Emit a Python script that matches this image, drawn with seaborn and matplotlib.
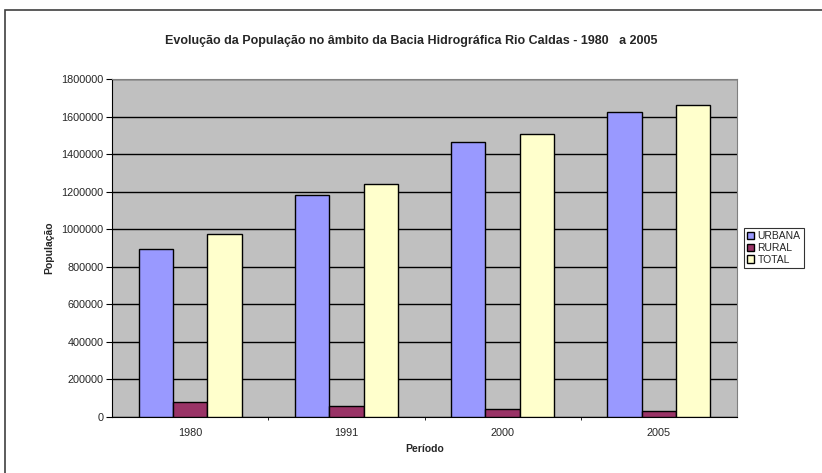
import pandas as pd
import matplotlib.pyplot as plt
import seaborn as sns
from matplotlib.patches import Rectangle
from matplotlib.ticker import FixedLocator

# Dados
periodos = ['1980', '1991', '2000', '2005']
urbana = [895000, 1181000, 1463000, 1624000]
rural = [78000, 57000, 41000, 34000]
total = [973000, 1239000, 1505000, 1663000]
series = ['URBANA', 'RURAL', 'TOTAL']
cores = ['#9999FF', '#993366', '#FFFFCC']

df = pd.DataFrame({'Período': periodos, 'URBANA': urbana, 'RURAL': rural, 'TOTAL': total})
df = df.melt(id_vars='Período', value_vars=series, var_name='Série', value_name='População')

sns.set_style('white')
plt.rcParams['font.family'] = ['Liberation Sans', 'DejaVu Sans']

fig = plt.figure(figsize=(8.22, 4.73), dpi=100)
ax = fig.add_axes([0.1363, 0.1184, 0.7603, 0.7146])

sns.barplot(data=df, x='Período', y='População', hue='Série', hue_order=series,
            palette=cores, width=0.66, edgecolor='black', linewidth=1.0,
            saturation=1, ax=ax, zorder=3)

ax.set_facecolor('#C0C0C0')
ax.set_ylim(0, 1800000)
ax.set_xlim(-0.5, 3.5)
ax.set_yticks(range(0, 1800001, 200000))
ax.set_yticklabels([str(v) for v in range(0, 1800001, 200000)], fontsize=7.8)
ax.yaxis.grid(True, color='black', linewidth=1.0, zorder=0)
ax.set_axisbelow(True)
ax.tick_params(axis='y', length=4, width=0.8, color='black', pad=2, left=True)
ax.tick_params(axis='x', which='major', length=0, labelsize=7.8, pad=8)
ax.xaxis.set_minor_locator(FixedLocator([0.5, 1.5, 2.5]))
ax.tick_params(axis='x', which='minor', length=2, width=0.6, color='black', bottom=True)
for s in ['top', 'right']:
    ax.spines[s].set_visible(True)
    ax.spines[s].set_color('#808080')
for s in ['left', 'bottom']:
    ax.spines[s].set_color('black')

ax.set_xlabel('Período', fontsize=7.5, fontweight='bold', labelpad=4)
ax.set_ylabel('População', fontsize=7.5, fontweight='bold', labelpad=5)

fig.suptitle('Evolução da População no âmbito da Bacia Hidrográfica Rio Caldas - 1980   a 2005',
             x=0.5, y=0.925, fontsize=9, fontweight='bold')

leg = ax.legend(loc='center left', bbox_to_anchor=(1.011, 0.5), fontsize=7.5,
                frameon=True, fancybox=False, edgecolor='black', handlelength=0.7,
                handleheight=0.7, handletextpad=0.3, borderpad=0.3, labelspacing=0.15,
                borderaxespad=0)
leg.get_frame().set_linewidth(0.8)

# Moldura externa do gráfico
fig.patches.append(Rectangle((0.006, -0.05), 1.1, 1.029, transform=fig.transFigure,
                             fill=False, edgecolor='#404040', linewidth=1.2))

fig.savefig('out.png', dpi=100)
